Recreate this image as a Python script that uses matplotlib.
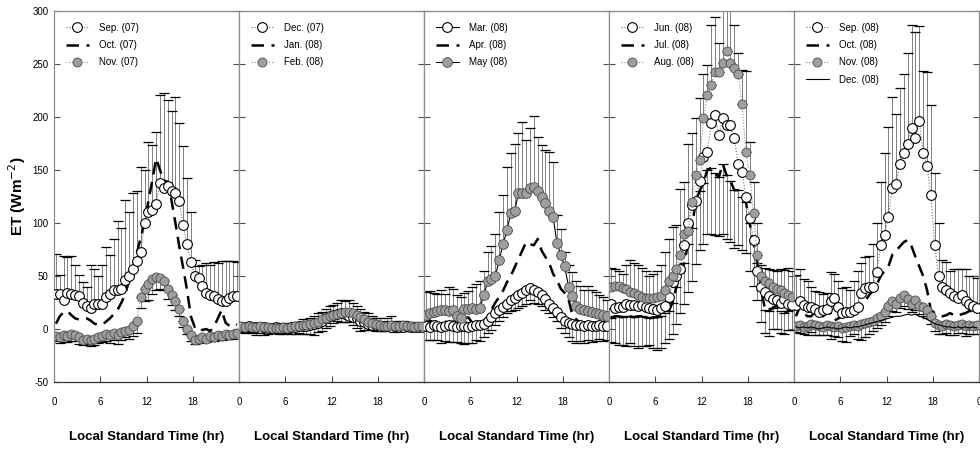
import numpy as np
import matplotlib.pyplot as plt

plt.rcParams['font.family'] = ['Liberation Sans Narrow', 'Liberation Sans', 'DejaVu Sans']
plt.rcParams['axes.unicode_minus'] = False

# half-hourly time stamps
hours = np.arange(0.25, 24, 0.5)

# ---- panel 1: Sep-Nov 2007
sep07 = [33,33,27,34,33,32,31,25,22,20, 24,24,24,30,33,37,37,38,46,50,
         57,64,73,100,110,112,118,138,133,135, 130,128,121,98,80,63,50,48,41,34,
         32,31,28,26,26,29,31,31]
sep07_top = [71,51,69,68,69,60,51,44,40,60, 57,50,60,77,70,85,102,95,122,110,
             128,130,153,150,176,174,186,221,223,216, 206,219,194,173,142,110,65,59,60,62,
             60,63,62,64,64,64,64,63]
oct07 = [5,12,16,17,13,10,9,9,10,8, 5,4,4,7,10,14,18,25,33,46,
         58,72,86,100,121,140,161,150,140,139, 121,100,78,58,37,12,2,3,-1,0,
         -2,2,10,18,6,3,5,4]
nov07 = [-7,-8,-6,-7,-5,-6,-8,-10,-9,-10, -9,-8,-7,-5,-6,-4,-6,-3,-2,-1,
         3,8,30,38,42,47,49,48,45,38, 32,26,19,8,0,-6,-10,-9,-8,-9,
         -7,-8,-6,-7,-5,-6,-5,-4]
nov07_err = [4,5,6,5,6,5,6,5,5,6, 6,5,5,6,7,6,8,7,6,8,
             10,12,10,12,15,14,12,10,8,10, 9,8,7,6,5,5,4,4,3,3,
             4,3,4,3,4,3,4,3]

# ---- panel 2: Dec 2007 - Feb 2008
dec07 = [2,2,3,2,2,1,2,1,1,2, 1,1,1,2,2,3,3,3,4,5,
         6,8,10,12,13,14,15,14,12,11, 10,8,7,5,4,4,3,3,3,2,
         3,2,2,3,2,2,2,2]
jan08 = [1,1,1,1,0,1,0,0,0,1, 0,1,1,1,2,2,2,3,4,4,
         6,8,10,11,13,14,14,13,12,10, 9,7,6,5,4,3,2,2,2,2,
         1,1,1,1,1,1,1,1]
jan08_err = [4,5,4,5,6,5,6,5,4,5, 5,6,5,6,7,6,7,8,9,10,
             9,10,9,8,7,6,7,6,5,6, 8,9,7,6,5,5,4,4,4,3,
             4,3,3,3,3,3,3,3]
feb08 = [3,2,3,2,2,3,2,2,1,1, 1,2,1,2,3,3,4,4,5,6,
         7,9,10,12,13,14,15,16,16,15, 13,11,9,7,6,5,4,3,3,4,
         3,3,4,3,3,2,3,3]
feb08_err = [3,4,3,4,3,3,4,3,3,3, 3,4,3,3,4,4,5,4,5,6,
             8,7,9,10,10,11,12,10,11,10, 9,8,7,8,6,5,6,5,7,8,
             5,4,4,3,4,3,3,3]

# ---- panel 3: Mar-May 2008
mar08 = [3,2,4,3,2,3,4,3,2,3, 3,2,3,4,4,5,8,11,15,18,
         21,24,27,29,32,34,37,39,37,35, 32,28,24,20,16,11,8,6,5,4,
         4,3,4,3,3,4,3,3]
mar08_err = [13,12,14,13,15,14,16,15,14,16, 17,15,16,14,15,13,12,12,11,10,
             10,9,10,11,12,12,13,12,12,11, 10,10,9,9,8,10,12,14,16,17,
             15,16,14,15,14,13,14,13]
apr08 = [7,8,6,7,8,7,6,7,8,8, 10,11,6,5,5,5,10,18,25,30,
         36,44,50,58,66,74,82,80,79,85, 74,68,62,52,46,38,34,28,13,9,
         6,5,6,5,6,5,6,5]
may08 = [13,15,16,17,18,18,17,18,12,10, 19,19,20,19,20,32,45,47,50,65,
         80,93,109,111,128,128,128,133,134,130, 125,119,111,106,81,70,59,40,31,22,
         19,18,17,16,15,14,13,12]
may08_top = [35,36,34,33,37,33,40,38,32,30, 34,36,40,42,45,55,73,78,90,110,
             126,153,166,175,185,195,178,190,201,181, 174,169,167,158,108,94,73,60,54,45,
             41,37,41,37,35,32,30,27]

# ---- panel 4: Jun-Aug 2008
jun08 = [24,20,21,21,24,23,23,22,23,21, 20,19,18,20,22,30,44,50,57,79,
         100,117,121,140,162,167,194,202,183,199, 192,192,180,156,148,125,105,84,55,40,
         35,31,28,27,25,28,24,23]
jul08 = [10,12,12,11,12,12,11,12,12,11, 10,11,11,12,15,17,25,40,55,62,
         80,95,121,130,138,150,152,147,143,156, 145,140,131,131,125,120,100,81,62,37,
         18,17,20,22,17,15,17,19]
jul08_err = [22,25,27,26,28,25,27,30,28,27, 25,29,31,30,28,26,30,35,40,38,
             45,50,60,55,58,60,62,58,55,66, 60,58,55,52,50,48,45,40,35,30,
             22,24,20,22,21,20,18,20]
aug08 = [40,41,41,39,38,35,34,32,30,29, 29,29,30,31,37,45,50,57,70,90,
         92,120,145,159,199,221,230,242,242,251, 262,251,246,241,212,167,145,109,70,50,
         45,43,40,38,37,34,32,30]
aug08_top = [58,57,55,52,60,65,62,60,58,55, 50,52,55,60,73,85,96,98,132,139,
             175,185,199,218,241,249,287,294,270,320, 320,320,287,260,244,243,176,139,100,60,
             58,57,56,55,57,56,58,55]

# ---- panel 5: Sep-Dec 2008
sep08 = [23,26,23,21,21,19,16,18,19,26, 29,21,15,16,16,18,21,34,39,40,
         40,54,79,89,106,133,137,156,166,175, 190,180,196,166,154,126,79,50,40,37,
         34,31,29,32,26,24,22,20]
sep08_top = [51,57,47,45,40,36,35,33,34,54, 52,45,39,40,37,45,55,62,68,69,
             80,100,139,166,191,219,203,227,241,260, 287,280,286,243,242,211,147,100,65,63,
             55,57,57,57,57,50,50,48]
oct08 = [12,21,15,12,12,17,14,12,15,15, 8,10,12,13,14,15,17,21,27,32,
         36,42,50,55,59,70,74,78,82,84, 78,68,59,50,37,18,15,13,12,13,
         15,13,12,14,15,17,17,18]
nov08 = [3,4,2,3,5,4,3,2,4,3, 2,3,1,2,3,4,3,5,6,7,
         8,10,12,16,22,26,24,29,32,28, 24,27,22,21,18,12,6,4,3,5,
         4,3,4,5,3,4,3,4]
nov08_err = [6,8,7,9,8,10,9,8,10,12, 9,11,12,14,10,9,12,15,14,12,
             10,9,8,9,10,9,8,9,10,9, 8,9,8,9,8,7,8,9,8,9,
             10,9,8,9,10,9,8,9]
dec08 = [2,1,2,1,2,1,0,1,2,1, 1,0,1,2,1,2,2,3,4,5,
         6,7,8,9,10,11,12,12,13,14, 13,14,12,11,9,7,5,4,3,2,
         2,1,2,1,2,1,2,1]

# marker / line styles
white_dot = dict(marker='o', mfc='white', mec='black', ms=7, mew=0.8,
                 ls=':', color='0.45', lw=0.8)
gray_dot = dict(marker='o', mfc='0.62', mec='0.3', ms=6.5, mew=0.6,
                ls=':', color='0.55', lw=0.8)
white_solid = dict(marker='o', mfc='white', mec='black', ms=7, mew=0.8,
                   ls='-', color='black', lw=0.8)
gray_solid = dict(marker='o', mfc='0.62', mec='0.3', ms=7, mew=0.6,
                  ls='-', color='black', lw=0.8)
dashed = dict(ls='--', color='black', lw=1.8, dashes=(5, 3))
thin = dict(ls='-', color='black', lw=0.8)


def bars(ax, lo, hi):
    lo = np.asarray(lo, float)
    hi = np.asarray(hi, float)
    ax.vlines(hours, lo, hi, color='0.5', lw=0.7, zorder=1)
    ax.plot(hours, lo, ls='none', marker='_', ms=7, mew=0.9, color='black', zorder=1)
    ax.plot(hours, hi, ls='none', marker='_', ms=7, mew=0.9, color='black', zorder=1)


fig, axes = plt.subplots(1, 5, sharey=True, figsize=(9.8, 4.49), dpi=100)
fig.subplots_adjust(left=0.0551, right=0.999, top=0.9755, bottom=0.1492, wspace=0)

# panel 1
ax = axes[0]
bars(ax, sep07, sep07_top)
bars(ax, np.array(nov07) - nov07_err, nov07)
ax.plot(hours, sep07, label='Sep. (07)', zorder=4, **white_dot)
ax.plot(hours, oct07, label='Oct. (07)', zorder=3, **dashed)
ax.plot(hours, nov07, label='Nov. (07)', zorder=2, **gray_dot)

# panel 2
ax = axes[1]
bars(ax, feb08, np.array(feb08) + feb08_err)
bars(ax, np.array(jan08) - jan08_err, jan08)
ax.plot(hours, dec07, label='Dec. (07)', zorder=2, **white_dot)
ax.plot(hours, jan08, label='Jan. (08)', zorder=3, **dashed)
ax.plot(hours, feb08, label='Feb. (08)', zorder=4, **gray_dot)

# panel 3
ax = axes[2]
bars(ax, may08, may08_top)
bars(ax, np.array(mar08) - mar08_err, mar08)
ax.plot(hours, mar08, label='Mar. (08)', zorder=4, **white_solid)
ax.plot(hours, apr08, label='Apr. (08)', zorder=3, **dashed)
ax.plot(hours, may08, label='May (08)', zorder=4, **gray_solid)

# panel 4
ax = axes[3]
bars(ax, aug08, aug08_top)
bars(ax, np.array(jul08) - jul08_err, jul08)
ax.plot(hours, jun08, label='Jun. (08)', zorder=4, **white_dot)
ax.plot(hours, jul08, label='Jul. (08)', zorder=3, **dashed)
ax.plot(hours, aug08, label='Aug. (08)', zorder=4, **gray_dot)

# panel 5
ax = axes[4]
bars(ax, sep08, sep08_top)
bars(ax, np.array(nov08) - nov08_err, nov08)
ax.plot(hours, sep08, label='Sep. (08)', zorder=4, **white_dot)
ax.plot(hours, oct08, label='Oct. (08)', zorder=3, **dashed)
ax.plot(hours, nov08, label='Nov. (08)', zorder=3, **gray_dot)
ax.plot(hours, dec08, label='Dec. (08)', zorder=3, **thin)

for i, ax in enumerate(axes):
    ax.set_xlim(0, 24)
    ax.set_ylim(-50, 300)
    if i == 4:
        ax.set_xticks([0, 6, 12, 18, 24])
        ax.set_xticklabels(['0', '6', '12', '18', '0'])
    else:
        ax.set_xticks([0, 6, 12, 18])
    ax.set_yticks(range(-50, 301, 50))
    ax.tick_params(axis='x', direction='in', length=4, width=0.8, pad=11,
                   labelsize=7, color='0.3')
    ax.tick_params(axis='y', direction='in', length=4, width=0.8, left=True,
                   right=True, labelsize=7, pad=4, color='0.3')
    for side in ['left', 'right', 'top']:
        ax.spines[side].set_color('0.55')
        ax.spines[side].set_linewidth(0.9)
    ax.spines['bottom'].set_color('0.2')
    ax.spines['bottom'].set_linewidth(0.9)
    ax.set_xlabel('Local Standard Time (hr)', fontsize=9.5, fontweight='bold',
                  labelpad=17)
    ax.legend(loc='upper left', frameon=False, fontsize=7, numpoints=1,
              handlelength=2.4, handletextpad=1.0, labelspacing=0.75,
              borderaxespad=0.3, borderpad=0.9)

axes[0].set_ylabel('ET (Wm$^{-2}$)', fontsize=11, fontweight='bold', labelpad=3)

fig.savefig('out.png', dpi=100)
